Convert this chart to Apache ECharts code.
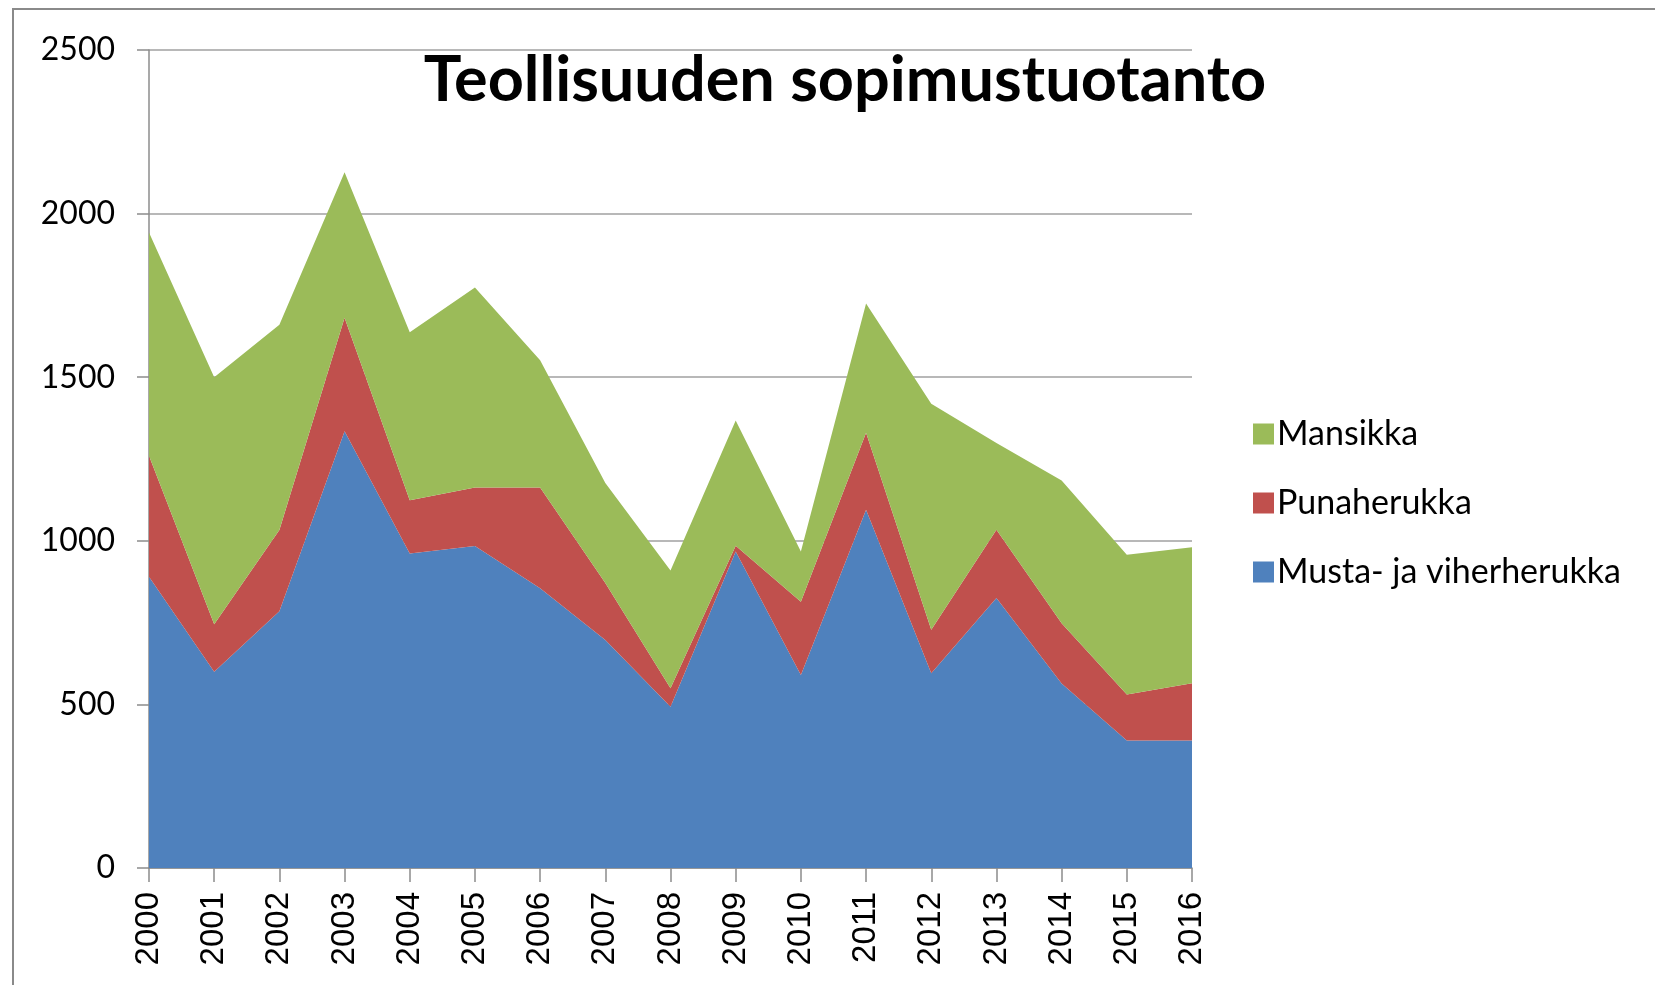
<!DOCTYPE html>
<html>
<head>
<meta charset="utf-8">
<script src="https://cdn.jsdelivr.net/npm/echarts@6/dist/echarts.min.js"></script>
<style>
html, body { margin: 0; padding: 0; background: #fff; }
#chart { width: 1655px; height: 985px; }
</style>
</head>
<body>
<div id="chart"></div>
<script>
// vuodet ja sarjat (tonnia)
var years = ['2000','2001','2002','2003','2004','2005','2006','2007','2008','2009','2010','2011','2012','2013','2014','2015','2016'];
var musta = [890, 600, 785, 1335, 961, 984, 855, 697, 493, 967, 590, 1095, 595, 825, 564, 390, 390];
var puna = [370, 145, 248, 347, 163, 179, 308, 174, 56, 18, 224, 235, 133, 209, 184, 140, 175];
var mansikka = [682, 755, 627, 444, 513, 611, 389, 306, 360, 383, 153, 395, 691, 265, 436, 427, 415];
var yTicks = [0, 500, 1000, 1500, 2000, 2500];

var chart = echarts.init(document.getElementById('chart'));

function area(name, data, color) {
    return {
        name: name,
        type: 'line',
        stack: 'total',
        data: data,
        showSymbol: false,
        lineStyle: {width: 0},
        areaStyle: {color: color, opacity: 1},
        itemStyle: {color: color}
    };
}

var option = {
    animation: false,
    title: {
        text: 'Teollisuuden sopimustuotanto',
        left: 840,
        top: 44,
        textAlign: 'center',
        textStyle: {
            fontFamily: 'Lato',
            fontWeight: 'bold',
            fontSize: 63,
            color: '#000'
        }
    },
    legend: {
        orient: 'vertical',
        left: 1248,
        top: 412,
        itemWidth: 21,
        itemHeight: 21,
        itemGap: 35,
        icon: 'rect',
        data: ['Mansikka', 'Punaherukka', 'Musta- ja viherherukka'],
        textStyle: {fontFamily: 'Lato', fontSize: 34, color: '#000', padding: [0, 0, 0, -2]}
    },
    graphic: [{
        type: 'rect',
        shape: {x: 13, y: 9, width: 1700, height: 1100},
        style: {fill: 'none', stroke: '#8a8a8a', lineWidth: 2},
        silent: true
    }],
    grid: {left: 149, right: 463, top: 50, bottom: 117},
    xAxis: {
        type: 'category',
        boundaryGap: false,
        data: years,
        axisLine: {lineStyle: {color: '#8c8c8c', width: 1.5}},
        axisTick: {length: 14, lineStyle: {color: '#8c8c8c', width: 1.5}},
        axisLabel: {
            rotate: 90,
            margin: 24,
            interval: 0,
            fontFamily: 'Liberation Sans',
            fontSize: 33,
            color: '#000'
        }
    },
    yAxis: {
        type: 'value',
        min: yTicks[0],
        max: yTicks[yTicks.length - 1],
        interval: 500,
        axisLine: {show: true, lineStyle: {color: '#8c8c8c', width: 1.5}},
        axisTick: {show: true, length: 12, lineStyle: {color: '#8c8c8c', width: 1.5}},
        splitLine: {lineStyle: {color: '#a0a0a0', width: 1.5}},
        axisLabel: {
            margin: 34,
            fontFamily: 'Lato',
            fontSize: 32,
            color: '#000',
            formatter: function (v) { return String(v); }
        }
    },
    series: [
        area('Musta- ja viherherukka', musta, '#4F81BD'),
        area('Punaherukka', puna, '#C0504D'),
        area('Mansikka', mansikka, '#9BBB59')
    ]
};

chart.setOption(option);
</script>
</body>
</html>
